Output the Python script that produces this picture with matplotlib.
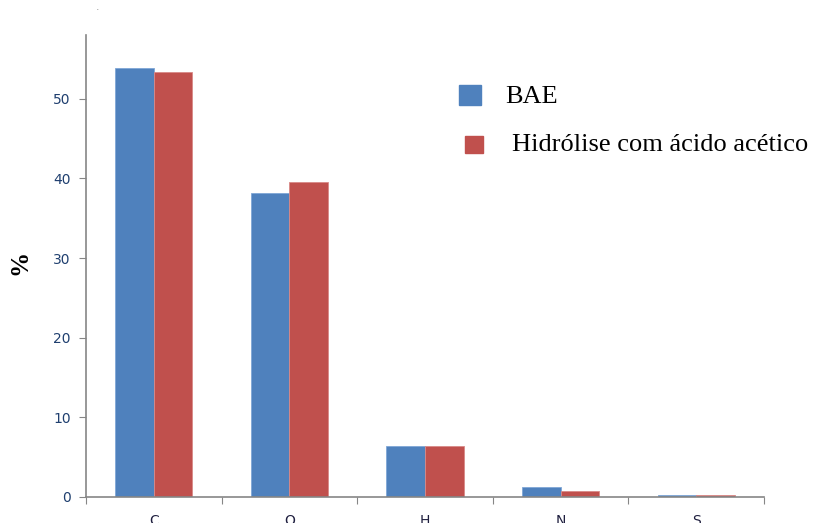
import numpy as np
import matplotlib.pyplot as plt

categories = ["C", "O", "H", "N", "S"]
bae = [53.9, 38.2, 6.4, 1.25, 0.2]
hidrolise = [53.3, 39.6, 6.4, 0.75, 0.2]
series_names = ["BAE", "Hidrólise com ácido acético"]

blue = "#4F81BD"
red = "#C0504D"
axis_grey = "#868686"

fig = plt.figure(figsize=(8.13, 5.23), dpi=100)
ax = fig.add_axes([86 / 813, 1 - 497 / 523, (764 - 86) / 813, (497 - 35) / 523])

x = np.arange(len(categories))
w = 0.285
ax.bar(x - w / 2, bae, width=w, color=blue, edgecolor="#7FA6D6", linewidth=0.6)
ax.bar(x + w / 2, hidrolise, width=w, color=red, edgecolor="#D98A88", linewidth=0.6)

ax.set_xlim(-0.5, len(categories) - 0.5)
ax.set_ylim(0, 58)
ax.set_yticks([0, 10, 20, 30, 40, 50])
ax.set_xticks(np.arange(len(categories) + 1) - 0.5, minor=False)
ax.set_xticklabels([])
ax.set_xticks(x, minor=True)
ax.set_xticklabels(categories, minor=True)
ax.tick_params(axis="x", which="minor", length=0, pad=12, labelsize=10, labelcolor="#1F1F3F")
ax.tick_params(axis="x", which="major", length=5, direction="out", color=axis_grey)
ax.tick_params(axis="y", length=5, direction="out", color=axis_grey, labelsize=10,
               labelcolor="#1F3F6F", pad=6)

for side in ["top", "right"]:
    ax.spines[side].set_visible(False)
for side in ["left", "bottom"]:
    ax.spines[side].set_color(axis_grey)
    ax.spines[side].set_linewidth(1.2)

fig.text(20 / 813, 1 - 262 / 523, "%", rotation=90, ha="center", va="center",
         fontsize=18, fontweight="bold", family="Liberation Serif")

# legend drawn by hand to match the loose layout
fig.patches.append(plt.Rectangle((459 / 813, 1 - 105 / 523), 22 / 813, 20 / 523,
                                 transform=fig.transFigure, color=blue))
fig.text(505 / 813, 1 - 97 / 523, series_names[0], va="center", ha="left",
         fontsize=19, family="Liberation Serif")
fig.patches.append(plt.Rectangle((465 / 813, 1 - 153 / 523), 18 / 813, 17 / 523,
                                 transform=fig.transFigure, color=red))
fig.text(512 / 813, 1 - 145 / 523, series_names[1], va="center", ha="left",
         fontsize=19, family="Liberation Serif")

fig.text(97 / 813, 1 - 8 / 523, ".", fontsize=4, ha="center", va="center")

fig.savefig("out.png", dpi=100)
